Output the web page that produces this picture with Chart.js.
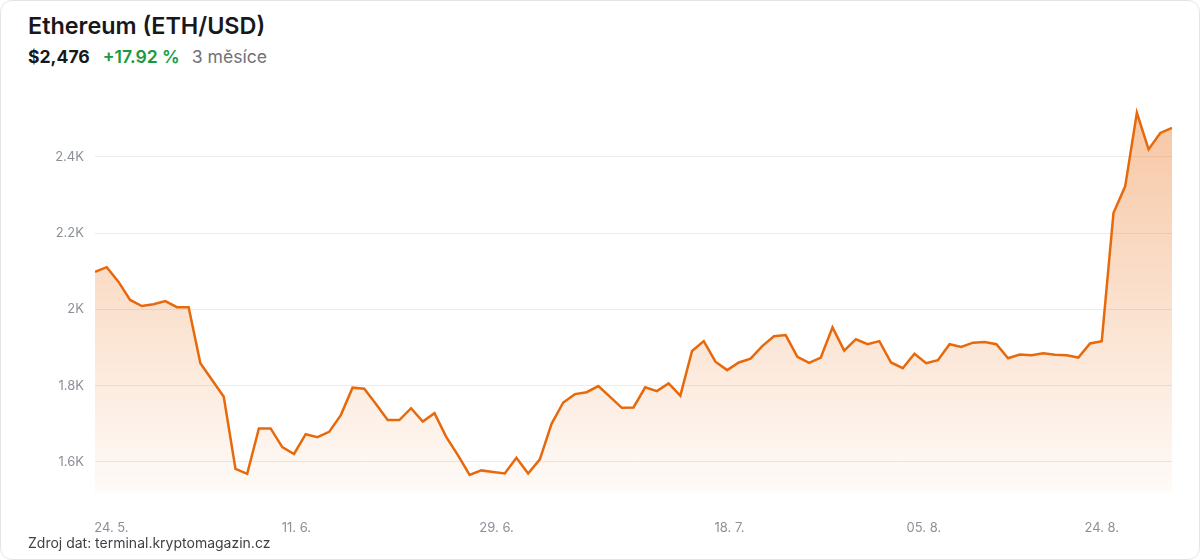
<!DOCTYPE html>
<html>
<head>
<meta charset="utf-8">
<script src="https://cdn.jsdelivr.net/npm/chart.js"></script>
<style>
  html, body { margin: 0; padding: 0; background: #fff; }
  body { width: 1200px; height: 560px; position: relative; overflow: hidden; font-family: Inter, "Noto Sans", sans-serif; }
  .card { position: absolute; left: 0; top: 0; width: 1198px; height: 558px; border: 1px solid #e4e4e7; border-radius: 12px; background: #fff; }
  .title { position: absolute; left: 28px; top: 11px; font-size: 23.4px; font-weight: 600; color: #18181b; }
  .sub { position: absolute; left: 28px; top: 46px; font-size: 17.6px; white-space: nowrap; }
  .price { font-weight: 700; color: #18181b; }
  .chg { font-weight: 600; color: #169a43; margin-left: 13px; }
  .period { color: #71717a; margin-left: 12px; }
  .src { position: absolute; left: 28px; top: 534px; font-size: 14px; color: #3f3f46; }
  .wrap { position: absolute; left: 0; top: 90px; width: 1200px; height: 470px; }
</style>
</head>
<body>
<div class="card"></div>
<div class="title">Ethereum (ETH/USD)</div>
<div class="sub"><span class="price">$2,476</span><span class="chg">+17.92 %</span><span class="period">3 měsíce</span></div>
<div class="wrap"><canvas id="chart"></canvas></div>
<div class="src">Zdroj dat: terminal.kryptomagazin.cz</div>
<script>
// denní zavírací ceny ETH (USD)
const prices = [
  2099, 2111, 2073, 2025, 2009, 2014, 2022, 2006, 2006, 1859,
  1815, 1771, 1582, 1569, 1688, 1688, 1639, 1621, 1673, 1665,
  1679, 1723, 1795, 1792, 1752, 1710, 1710, 1741, 1706, 1728,
  1666, 1618, 1566, 1578, 1574, 1570, 1611, 1570, 1607, 1700,
  1756, 1778, 1783, 1799, 1771, 1742, 1743, 1796, 1786, 1806,
  1774, 1891, 1917, 1863, 1841, 1861, 1871, 1904, 1930, 1933,
  1876, 1860, 1874, 1953, 1892, 1922, 1909, 1917, 1861, 1846,
  1884, 1859, 1867, 1909, 1902, 1913, 1915, 1909, 1872, 1882,
  1880, 1885, 1881, 1880, 1874, 1911, 1917, 2253, 2323, 2516,
  2420, 2463, 2476
];
const xTickLabels = ['24. 5.', '11. 6.', '29. 6.', '18. 7.', '05. 8.', '24. 8.'];
const xTickAt = [1.4, 17.2, 34.3, 54.2, 70.8, 86.0];
const yTicks = [1600, 1800, 2000, 2200, 2400];

const points = prices.map((p, i) => ({ x: i, y: p }));
const gray = '#8b8f97';

new Chart(document.getElementById('chart'), {
  type: 'line',
  data: {
    datasets: [{
      data: points,
      borderColor: '#e8690c',
      borderWidth: 2.5,
      pointRadius: 0,
      tension: 0,
      fill: 'start',
      backgroundColor: (ctx) => {
        const area = ctx.chart.chartArea;
        if (!area) return 'rgba(234,110,20,0.2)';
        const g = ctx.chart.ctx.createLinearGradient(0, area.top, 0, area.bottom);
        g.addColorStop(0, 'rgba(234,110,20,0.40)');
        g.addColorStop(1, 'rgba(234,110,20,0.03)');
        return g;
      },
    }],
  },
  options: {
    responsive: true,
    maintainAspectRatio: false,
    animation: false,
    layout: { padding: { top: 11.7, right: 28, bottom: 0, left: 0 } },
    plugins: { legend: { display: false }, tooltip: { enabled: false } },
    scales: {
      x: {
        type: 'linear',
        min: 0,
        max: prices.length - 1,
        grid: { display: false, drawTicks: false },
        border: { display: false },
        afterBuildTicks: (s) => { s.ticks = xTickAt.map((v) => ({ value: v })); },
        afterFit: (s) => { s.height = 67.5; s.paddingLeft = 0; s.paddingRight = 0; },
        ticks: {
          color: gray,
          font: { family: 'Inter', size: 13 },
          padding: 28,
          maxRotation: 0,
          autoSkip: false,
          callback: (v) => xTickLabels[xTickAt.indexOf(v)],
        },
      },
      y: {
        min: 1520,
        max: 2545,
        grid: { color: '#ebebeb', lineWidth: 1, drawTicks: false },
        border: { display: false },
        afterBuildTicks: (s) => { s.ticks = yTicks.map((v) => ({ value: v })); },
        afterFit: (s) => { s.width = 95; s.paddingTop = 0; s.paddingBottom = 0; },
        ticks: {
          color: gray,
          font: { family: 'Inter', size: 13 },
          padding: 11,
          callback: (v) => (v / 1000) + 'K',
        },
      },
    },
  },
});
</script>
</body>
</html>
